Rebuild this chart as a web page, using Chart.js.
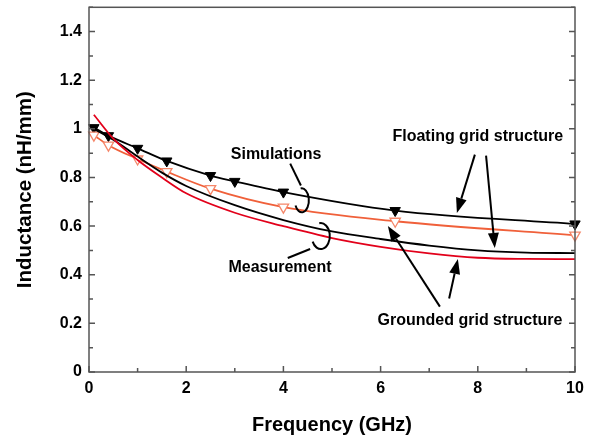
<!DOCTYPE html>
<html>
<head>
<meta charset="utf-8">
<script src="https://cdn.jsdelivr.net/npm/chart.js@4/dist/chart.umd.min.js"></script>
<style>
  html, body { margin: 0; padding: 0; background: #fff; }
</style>
</head>
<body>
<canvas id="chart" width="595" height="440"></canvas>
<script>
// simulated data (markers), frequency in GHz, inductance in nH/mm
const simFreqFloating = [0.1, 0.4, 1.0, 1.6, 2.5, 3.0, 4.0, 6.3, 10];
const simFloating = [1.005, 0.972, 0.92, 0.868, 0.808, 0.784, 0.74, 0.664, 0.609];
const simFreqGrounded = [0.1, 0.4, 1.0, 1.6, 2.5, 4.0, 6.3, 10];
const simGrounded = [0.974, 0.933, 0.876, 0.824, 0.754, 0.678, 0.62, 0.563];

// measured curves
const measFreq = [0.1, 0.5, 1, 1.5, 2, 3, 4, 5, 6, 7, 8, 9, 10];
const measFloating = [1.0, 0.955, 0.886, 0.82, 0.765, 0.686, 0.625, 0.578, 0.547, 0.52, 0.5, 0.491, 0.489];
const measGrounded = [1.058, 0.96, 0.872, 0.80, 0.735, 0.655, 0.600, 0.551, 0.515, 0.488, 0.470, 0.465, 0.464];

const xTicks = [0, 2, 4, 6, 8, 10];
const yTicks = [0, 0.2, 0.4, 0.6, 0.8, 1, 1.2, 1.4];

const pts = (xs, ys) => xs.map((x, i) => ({ x: x, y: ys[i] }));

// annotation texts and pointers, in data units
const notes = [
  { text: 'Simulations', x: 3.85, y: 0.894 },
  { text: 'Floating grid structure', x: 8.0, y: 0.967 },
  { text: 'Measurement', x: 3.93, y: 0.429 },
  { text: 'Grounded grid structure', x: 7.84, y: 0.212 }
];
const arrows = [
  [7.94, 0.894, 7.57, 0.654],
  [8.17, 0.890, 8.35, 0.510],
  [7.22, 0.269, 6.15, 0.600],
  [7.41, 0.302, 7.59, 0.465]
];
const leaders = [
  [4.14, 0.857, 4.36, 0.767],
  [4.09, 0.469, 4.55, 0.506]
];
const loops = [
  { x: 4.38, y: 0.706, rx: 7, ry: 12 },
  { x: 4.77, y: 0.559, rx: 9, ry: 13 }
];

const FONT = 'Liberation Sans, Arial, sans-serif';

const decor = {
  id: 'decor',
  afterDraw(chart) {
    const { ctx, chartArea: a, scales: { x, y } } = chart;
    ctx.save();

    // frame
    ctx.strokeStyle = '#555';
    ctx.lineWidth = 1.5;
    ctx.strokeRect(a.left, a.top, a.right - a.left, a.bottom - a.top);

    // inward ticks
    ctx.beginPath();
    for (let v = 0; v <= 15; v++) {
      const py = y.getPixelForValue(v / 10);
      const len = v % 2 === 0 ? 6 : 4;
      ctx.moveTo(a.left, py); ctx.lineTo(a.left + len, py);
      ctx.moveTo(a.right, py); ctx.lineTo(a.right - len, py);
    }
    for (let v = 0; v <= 10; v++) {
      const px = x.getPixelForValue(v);
      const len = v % 2 === 0 ? 6 : 4;
      ctx.moveTo(px, a.bottom); ctx.lineTo(px, a.bottom - len);
    }
    ctx.stroke();

    // y title
    ctx.fillStyle = '#000';
    ctx.font = 'bold 20.5px ' + FONT;
    ctx.textAlign = 'center';
    ctx.textBaseline = 'middle';
    ctx.save();
    ctx.translate(25, (a.top + a.bottom) / 2);
    ctx.rotate(-Math.PI / 2);
    ctx.fillText('Inductance (nH/mm)', 0, 0);
    ctx.restore();

    // notes
    ctx.font = 'bold 16px ' + FONT;
    notes.forEach(n => ctx.fillText(n.text, x.getPixelForValue(n.x), y.getPixelForValue(n.y)));

    ctx.strokeStyle = '#000';
    ctx.lineWidth = 2;
    leaders.forEach(l => {
      ctx.beginPath();
      ctx.moveTo(x.getPixelForValue(l[0]), y.getPixelForValue(l[1]));
      ctx.lineTo(x.getPixelForValue(l[2]), y.getPixelForValue(l[3]));
      ctx.stroke();
    });
    loops.forEach(l => {
      ctx.beginPath();
      ctx.ellipse(x.getPixelForValue(l.x), y.getPixelForValue(l.y), l.rx, l.ry, 0,
        -100 * Math.PI / 180, 155 * Math.PI / 180);
      ctx.stroke();
    });
    arrows.forEach(r => {
      const x0 = x.getPixelForValue(r[0]), y0 = y.getPixelForValue(r[1]);
      const x1 = x.getPixelForValue(r[2]), y1 = y.getPixelForValue(r[3]);
      const ang = Math.atan2(y1 - y0, x1 - x0);
      const hl = 15, hw = 5.5;
      const bx = x1 - hl * Math.cos(ang), by = y1 - hl * Math.sin(ang);
      ctx.beginPath();
      ctx.moveTo(x0, y0); ctx.lineTo(bx, by);
      ctx.stroke();
      ctx.beginPath();
      ctx.moveTo(x1, y1);
      ctx.lineTo(bx + hw * Math.sin(ang), by - hw * Math.cos(ang));
      ctx.lineTo(bx - hw * Math.sin(ang), by + hw * Math.cos(ang));
      ctx.closePath();
      ctx.fill();
    });
    ctx.restore();
  }
};

new Chart(document.getElementById('chart'), {
  type: 'line',
  data: {
    datasets: [
      {
        label: 'Measurement grounded',
        data: pts(measFreq, measGrounded),
        borderColor: '#e2001a',
        borderWidth: 1.8,
        pointRadius: 0,
        cubicInterpolationMode: 'monotone',
        clip: false
      },
      {
        label: 'Measurement floating',
        data: pts(measFreq, measFloating),
        borderColor: '#000',
        borderWidth: 1.8,
        pointRadius: 0,
        cubicInterpolationMode: 'monotone',
        clip: false
      },
      {
        label: 'Simulation grounded',
        data: pts(simFreqGrounded, simGrounded),
        borderColor: '#f0603a',
        borderWidth: 1.8,
        cubicInterpolationMode: 'monotone',
        pointStyle: 'triangle',
        rotation: 180,
        pointRadius: 6,
        pointBackgroundColor: '#fff',
        pointBorderColor: '#f5876a',
        pointBorderWidth: 1.3,
        clip: false
      },
      {
        label: 'Simulation floating',
        data: pts(simFreqFloating, simFloating),
        borderColor: '#000',
        borderWidth: 1.8,
        cubicInterpolationMode: 'monotone',
        pointStyle: 'triangle',
        rotation: 180,
        pointRadius: 6,
        pointBackgroundColor: '#000',
        pointBorderColor: '#000',
        pointBorderWidth: 1,
        clip: false
      }
    ]
  },
  options: {
    responsive: false,
    animation: false,
    devicePixelRatio: 1,
    events: [],
    layout: { padding: { top: 5, right: 20, left: 0, bottom: 0 } },
    plugins: { legend: { display: false }, tooltip: { enabled: false } },
    scales: {
      x: {
        type: 'linear',
        min: 0,
        max: 10,
        afterBuildTicks: s => { s.ticks = xTicks.map(v => ({ value: v })); },
        afterFit: s => { s.height = 68; s.paddingLeft = 0; s.paddingRight = 0; },
        grid: { display: false, drawTicks: false },
        border: { display: false },
        ticks: {
          color: '#000',
          font: { family: FONT, size: 16, weight: 'bold' },
          padding: 7,
          maxRotation: 0,
          callback: v => String(v)
        },
        title: {
          display: true,
          text: 'Frequency (GHz)',
          color: '#000',
          font: { family: FONT, size: 20, weight: 'bold' },
          padding: { top: 0, bottom: 3 }
        }
      },
      y: {
        min: 0,
        max: 1.5,
        afterBuildTicks: s => { s.ticks = yTicks.map(v => ({ value: v })); },
        afterFit: s => { s.width = 89; s.paddingTop = 0; s.paddingBottom = 0; },
        grid: { display: false, drawTicks: false },
        border: { display: false },
        ticks: {
          color: '#000',
          font: { family: FONT, size: 16, weight: 'bold' },
          padding: 7,
          callback: v => String(+v.toFixed(1))
        }
      }
    }
  },
  plugins: [decor]
});
</script>
</body>
</html>
